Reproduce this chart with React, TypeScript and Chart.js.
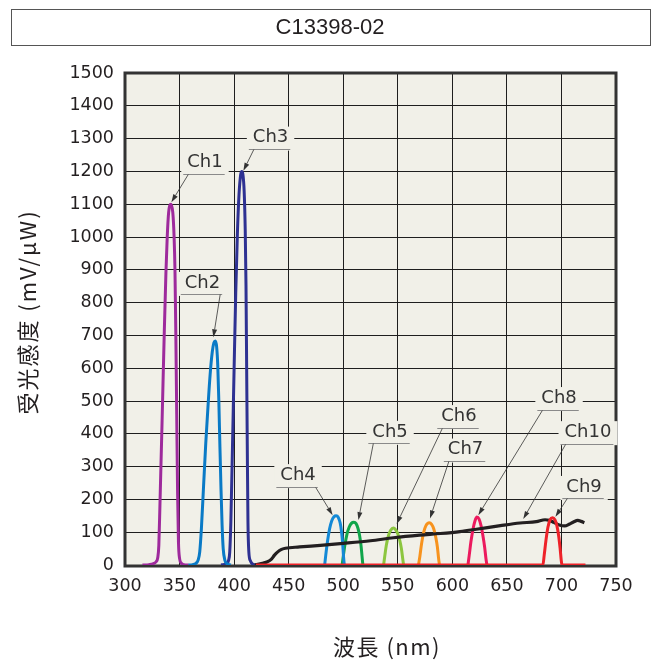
import React, { useEffect, useRef } from 'react';
import { Chart, registerables } from 'chart.js';

Chart.register(...registerables);

const TITLE = 'C13398-02';
const X_TITLE = '波長 (nm)';
const Y_TITLE = '受光感度 (mV/μW)';
const X_TICKS = [300, 350, 400, 450, 500, 550, 600, 650, 700, 750];
const Y_TICKS = [0, 100, 200, 300, 400, 500, 600, 700, 800, 900, 1000, 1100, 1200, 1300, 1400, 1500];

// [wavelength nm, sensitivity mV/uW]
const CH1: [number, number][] = [[316,0],[322,1],[326,4],[328.5,10],[330,22],[331,60],[332,180],[334,440],[336,710],[337.5,890],[338.7,1000],[340,1075],[342,1100],[343.8,1075],[345,1000],[345.8,900],[346.6,700],[347.4,460],[348.2,220],[349,70],[350,20],[351.5,6],[354,1],[358,0]];
const CH2: [number, number][] = [[358,0],[362,1],[365,5],[367,15],[368.5,40],[370,110],[372,240],[374,370],[376,480],[378,580],[380,650],[381.5,678],[382.8,683],[384,665],[385,610],[386,500],[387,360],[388,230],[389,120],[390,50],[391.5,15],[393.5,4],[397,0]];
const CH3: [number, number][] = [[388,0],[391,2],[393.5,6],[395,15],[396,40],[397,130],[398.5,360],[400,600],[401.5,830],[403,1010],[404.5,1130],[406,1190],[407,1200],[408,1192],[409.2,1140],[410.2,1020],[410.9,850],[411.5,600],[412.1,350],[412.7,130],[413.5,40],[415,12],[417,3],[421,0]];
const CH4: [number, number][] = [[483,0],[484,30],[485.5,70],[487.5,110],[489.5,135],[491.5,147],[493.5,150],[495.5,145],[497.2,128],[498.5,100],[499.5,65],[500.3,25],[501,0]];
const CH5: [number, number][] = [[499,0],[500,25],[501.5,60],[503.5,95],[505.5,116],[507.5,127],[509.8,130],[511.8,126],[513.5,112],[515,90],[516.3,60],[517.3,25],[518,0]];
const CH6: [number, number][] = [[537,0],[538,25],[539.5,60],[541.5,90],[543.5,106],[545.9,113],[548,108],[550,95],[551.8,75],[553.3,50],[554.5,20],[555.3,0]];
const CH7: [number, number][] = [[569,0],[570.2,25],[571.8,65],[573.8,100],[575.8,120],[578.9,129],[581,124],[583,110],[584.8,85],[586.3,55],[587.4,20],[588.2,0]];
const CH8: [number, number][] = [[614.3,0],[615.5,30],[617,70],[619,110],[620.8,135],[622.5,146],[624.5,140],[626.3,120],[628,90],[629.6,55],[630.8,20],[631.7,0]];
const CH9: [number, number][] = [[420,0],[683,0],[684.2,30],[685.8,75],[687.6,115],[689.6,138],[691.9,144],[694,138],[695.8,120],[697.4,90],[698.8,50],[699.8,15],[700.5,0],[722,0]];
const CH10: [number, number][] = [[419,0],[424,4],[430,9],[434,17],[437,30],[440,40],[443,47],[447,51],[460,55],[479,60],[500,66],[525,74],[546,83],[570,91],[589,96],[607,102],[622,109],[644,120],[662,128],[677,132],[685,138],[689,136],[693,130],[698,122],[703,119],[707,124],[711,131],[715,136],[718,133],[721,129]];

const CHANNELS = [
  { name: 'Ch1', data: CH1, color: '#9E2A9C' },
  { name: 'Ch2', data: CH2, color: '#0A7AC6' },
  { name: 'Ch3', data: CH3, color: '#2E3192' },
  { name: 'Ch4', data: CH4, color: '#1489D6' },
  { name: 'Ch5', data: CH5, color: '#10A54A' },
  { name: 'Ch6', data: CH6, color: '#8CC63F' },
  { name: 'Ch7', data: CH7, color: '#F7931E' },
  { name: 'Ch8', data: CH8, color: '#EC1A5E' },
  { name: 'Ch9', data: CH9, color: '#EE2229' },
  { name: 'Ch10', data: CH10, color: '#231F20' },
];

// callouts: label text centre (nm, value), leader side, arrow target (nm, value)
const CALLOUTS = [
  { label: 'Ch1', x: 373.3, y: 1227, side: 'left', tx: 342.5, ty: 1106 },
  { label: 'Ch2', x: 371.0, y: 860, side: 'right', tx: 381, ty: 694 },
  { label: 'Ch3', x: 433.4, y: 1303, side: 'left', tx: 408.5, ty: 1202 },
  { label: 'Ch4', x: 458.6, y: 274, side: 'right', tx: 490.3, ty: 152 },
  { label: 'Ch5', x: 542.9, y: 406, side: 'left', tx: 513.9, ty: 137 },
  { label: 'Ch6', x: 606.1, y: 454, side: 'left', tx: 549, ty: 125 },
  { label: 'Ch7', x: 612.1, y: 352, side: 'left', tx: 579.5, ty: 142 },
  { label: 'Ch8', x: 697.8, y: 509, side: 'left', tx: 623.8, ty: 152 },
  { label: 'Ch10', x: 724.3, y: 405, side: 'left', tx: 665, ty: 140 },
  { label: 'Ch9', x: 720.7, y: 238, side: 'left', tx: 694.5, ty: 147 },
];

const PLOT_BG = '#F1F0E8';
const INK = '#231F20';
const LATIN = '"DejaVu Sans", Verdana, sans-serif';

const decorPlugin = {
  id: 'decor',
  beforeDraw(chart: any) {
    const { ctx, chartArea } = chart;
    const { left, top, right, bottom } = chartArea;
    ctx.save();
    ctx.fillStyle = '#ffffff';
    ctx.fillRect(0, 0, chart.width, chart.height);
    ctx.fillStyle = PLOT_BG;
    ctx.fillRect(left, top, right - left, bottom - top);
    // title box
    ctx.strokeStyle = '#555555';
    ctx.lineWidth = 1;
    ctx.strokeRect(11.5, 9.5, 639, 36);
    ctx.fillStyle = INK;
    ctx.font = '22px "Liberation Sans", Arial, sans-serif';
    ctx.textAlign = 'center';
    ctx.textBaseline = 'middle';
    ctx.fillText(TITLE, 330, 28);
    // axis titles
    ctx.font = '22px "Noto Sans CJK JP", sans-serif';
    (ctx as any).letterSpacing = '1.5px';
    ctx.fillText(X_TITLE, 387, 647);
    ctx.translate(28, 312);
    ctx.rotate(-Math.PI / 2);
    (ctx as any).letterSpacing = '2px';
    ctx.fillText(Y_TITLE, 0, 0);
    ctx.restore();
  },
  beforeDatasetsDraw(chart: any) {
    const { ctx, chartArea } = chart;
    const { left, top, right, bottom } = chartArea;
    ctx.save();
    ctx.strokeStyle = '#333333';
    ctx.lineWidth = 3;
    ctx.strokeRect(left, top, right - left, bottom - top + 1);
    ctx.restore();
  },
  afterDatasetsDraw(chart: any) {
    const { ctx } = chart;
    const xs = chart.scales.x;
    const ys = chart.scales.y;
    ctx.save();
    ctx.font = '18px ' + LATIN;
    ctx.textAlign = 'center';
    ctx.textBaseline = 'middle';
    for (const c of CALLOUTS) {
      const cx = xs.getPixelForValue(c.x);
      const cy = ys.getPixelForValue(c.y);
      const w = ctx.measureText(c.label).width;
      ctx.fillStyle = PLOT_BG;
      ctx.fillRect(cx - w / 2 - 6, cy - 11, w + 12, 24);
      ctx.fillStyle = '#333333';
      ctx.fillText(c.label, cx, cy);
      const uy = Math.round(cy + 11.5) + 0.5;
      ctx.strokeStyle = '#8a8a8a';
      ctx.lineWidth = 1;
      ctx.beginPath();
      ctx.moveTo(cx - w / 2 - 4, uy);
      ctx.lineTo(cx + w / 2 + 2, uy);
      ctx.stroke();
      const sx = c.side === 'left' ? cx - w / 2 + 1 : cx + w / 2;
      const tx = xs.getPixelForValue(c.tx);
      const ty = ys.getPixelForValue(c.ty);
      const ang = Math.atan2(ty - uy, tx - sx);
      const ah = 8;
      const bx = tx - ah * Math.cos(ang);
      const by = ty - ah * Math.sin(ang);
      ctx.strokeStyle = '#333333';
      ctx.lineWidth = 0.8;
      ctx.beginPath();
      ctx.moveTo(sx, uy);
      ctx.lineTo(bx, by);
      ctx.stroke();
      ctx.fillStyle = '#333333';
      ctx.beginPath();
      ctx.moveTo(tx, ty);
      ctx.lineTo(bx + 2.5 * Math.sin(ang), by - 2.5 * Math.cos(ang));
      ctx.lineTo(bx - 2.5 * Math.sin(ang), by + 2.5 * Math.cos(ang));
      ctx.closePath();
      ctx.fill();
    }
    ctx.restore();
  },
};

export default function App() {
  const ref = useRef<HTMLCanvasElement | null>(null);
  useEffect(() => {
    if (!ref.current) return;
    const chart = new Chart(ref.current, {
      type: 'scatter',
      data: {
        datasets: CHANNELS.map((c, i) => ({
          label: c.name,
          data: c.data.map(([x, y]) => ({ x, y })),
          borderColor: c.color,
          backgroundColor: c.color,
          borderWidth: c.name === 'Ch10' ? 3.2 : 3,
          showLine: true,
          pointRadius: 0,
          pointHoverRadius: 0,
          cubicInterpolationMode: 'monotone',
          order: c.name === 'Ch9' ? 0 : c.name === 'Ch10' ? 1 : 2 + i,
        })),
      } as any,
      options: {
        animation: false,
        responsive: true,
        maintainAspectRatio: false,
        layout: { padding: { left: 0, top: 73, right: 44, bottom: 0 } },
        plugins: {
          legend: { display: false },
          tooltip: { enabled: false },
          title: { display: false },
        },
        scales: {
          x: {
            type: 'linear',
            min: 300,
            max: 750,
            afterBuildTicks: (s: any) => { s.ticks = X_TICKS.map((value) => ({ value })); },
            afterFit: (s: any) => { s.height = 97; },
            grid: { color: '#1e1e1e', lineWidth: 1, drawTicks: false },
            border: { display: false },
            ticks: { color: INK, font: { family: LATIN, size: 17.5 }, padding: 11, maxRotation: 0, autoSkip: false, callback: (v: any) => String(v) },
          },
          y: {
            type: 'linear',
            min: 0,
            max: 1500,
            afterBuildTicks: (s: any) => { s.ticks = Y_TICKS.map((value) => ({ value })); },
            afterFit: (s: any) => { s.width = 125; },
            grid: { color: '#1e1e1e', lineWidth: 1, drawTicks: false },
            border: { display: false },
            ticks: { color: INK, font: { family: LATIN, size: 17.5 }, padding: 11, autoSkip: false, callback: (v: any) => String(v) },
          },
        },
      } as any,
      plugins: [decorPlugin],
    });
    return () => chart.destroy();
  }, []);
  return (
    <div style={{ position: 'fixed', left: 0, top: 0, width: 660, height: 662, background: '#fff' }}>
      <canvas ref={ref} />
    </div>
  );
}
